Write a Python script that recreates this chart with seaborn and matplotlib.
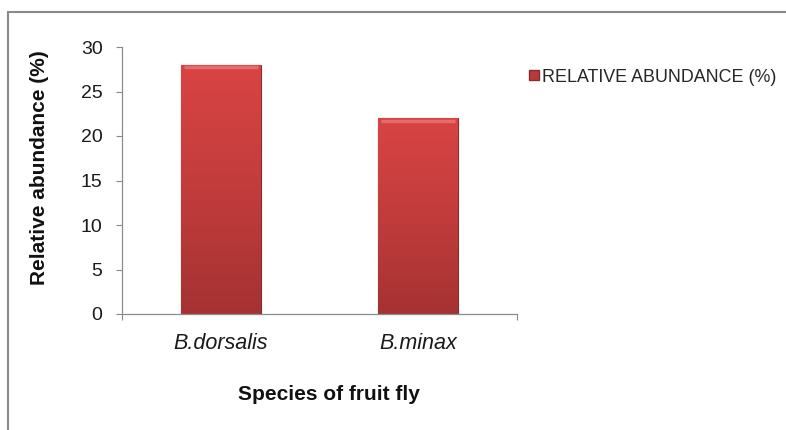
import numpy as np
import pandas as pd
import matplotlib
matplotlib.use("Agg")
import matplotlib.pyplot as plt
import seaborn as sns
from matplotlib.lines import Line2D
from matplotlib.colors import LinearSegmentedColormap

species = ["B.dorsalis", "B.minax"]
abundance = [28, 22]
series_name = "RELATIVE ABUNDANCE (%)"
y_ticks = [0, 5, 10, 15, 20, 25, 30]

sns.set_theme(style="white")
plt.rcParams['font.family'] = ['Liberation Sans', 'DejaVu Sans']

df = pd.DataFrame({"species": species, "abundance": abundance})

fig = plt.figure(figsize=(7.86, 4.30), dpi=100)
ax = fig.add_axes([122/786, 1-314/430, (517-122)/786, (314-47)/430])

sns.barplot(data=df, x="species", y="abundance", color="#C83C3C",
            width=0.405, ax=ax, edgecolor="#8E2A2A", linewidth=0.8,
            saturation=1)

# gradient fill clipped to each bar
cmap = LinearSegmentedColormap.from_list("redgrad", ["#A53232", "#C23C3C", "#D94444"])
grad = np.linspace(0, 1, 256).reshape(-1, 1)
for p in ax.patches:
    x0, y0 = p.get_x(), p.get_y()
    w, h = p.get_width(), p.get_height()
    im = ax.imshow(grad, extent=[x0, x0 + w, y0, y0 + h], origin="lower",
                   cmap=cmap, aspect="auto", zorder=p.get_zorder() + 0.1)
    im.set_clip_path(p)
    # top bevel highlight
    ax.plot([x0 + w*0.04, x0 + w*0.96], [y0 + h - 0.3, y0 + h - 0.3],
            color="#E86A6A", lw=2.5, zorder=p.get_zorder() + 0.2,
            solid_capstyle="butt")

ax.set_xlim(-0.5, 1.5)
ax.set_ylim(0, 30)
ax.set_yticks(y_ticks)
ax.set_yticklabels([str(t) for t in y_ticks], fontsize=14, color="#1A1A1A")
ax.set_xticks([0, 1])
ax.set_xticklabels(species, fontsize=15.5, style="italic", color="#1A1A1A")
ax.tick_params(axis="x", length=0, pad=14)
ax.tick_params(axis="y", direction="out", length=4, width=0.8, color="#888888", pad=10, left=True)
ax.set_xticks([-0.5, 1.5], minor=True)
ax.tick_params(axis="x", which="minor", direction="out", length=4, width=0.8, color="#888888", bottom=True)

for s in ["top", "right"]:
    ax.spines[s].set_visible(False)
for s in ["left", "bottom"]:
    ax.spines[s].set_color("#8C8C8C")
    ax.spines[s].set_linewidth(0.9)

ax.set_xlabel("Species of fruit fly", fontsize=15, fontweight="bold", color="#111111")
ax.set_ylabel("Relative abundance (%)", fontsize=15, fontweight="bold", color="#111111")
ax.xaxis.set_label_coords(0.523, -0.303)
ax.yaxis.set_label_coords(-0.21, 0.55)
ax.xaxis.label.set_va("center")
ax.yaxis.label.set_va("center")

handle = Line2D([], [], marker="s", linestyle="none", markersize=6.5,
                markerfacecolor="#B83A3A", markeredgecolor="#8E2A2A")
fig.legend([handle], [series_name], loc="center left",
           bbox_to_anchor=(520/786, 1-77/430), frameon=False,
           fontsize=12.9, handlelength=0.6, handletextpad=0.15, borderpad=0)

# outer chart border (top and left)
fig.add_artist(Line2D([8/786, 1], [1-12/430, 1-12/430], color="#8A8A8A", lw=1.5, transform=fig.transFigure))
fig.add_artist(Line2D([8/786, 8/786], [0, 1-12/430], color="#8A8A8A", lw=1.5, transform=fig.transFigure))

fig.savefig("out.png", dpi=100)
